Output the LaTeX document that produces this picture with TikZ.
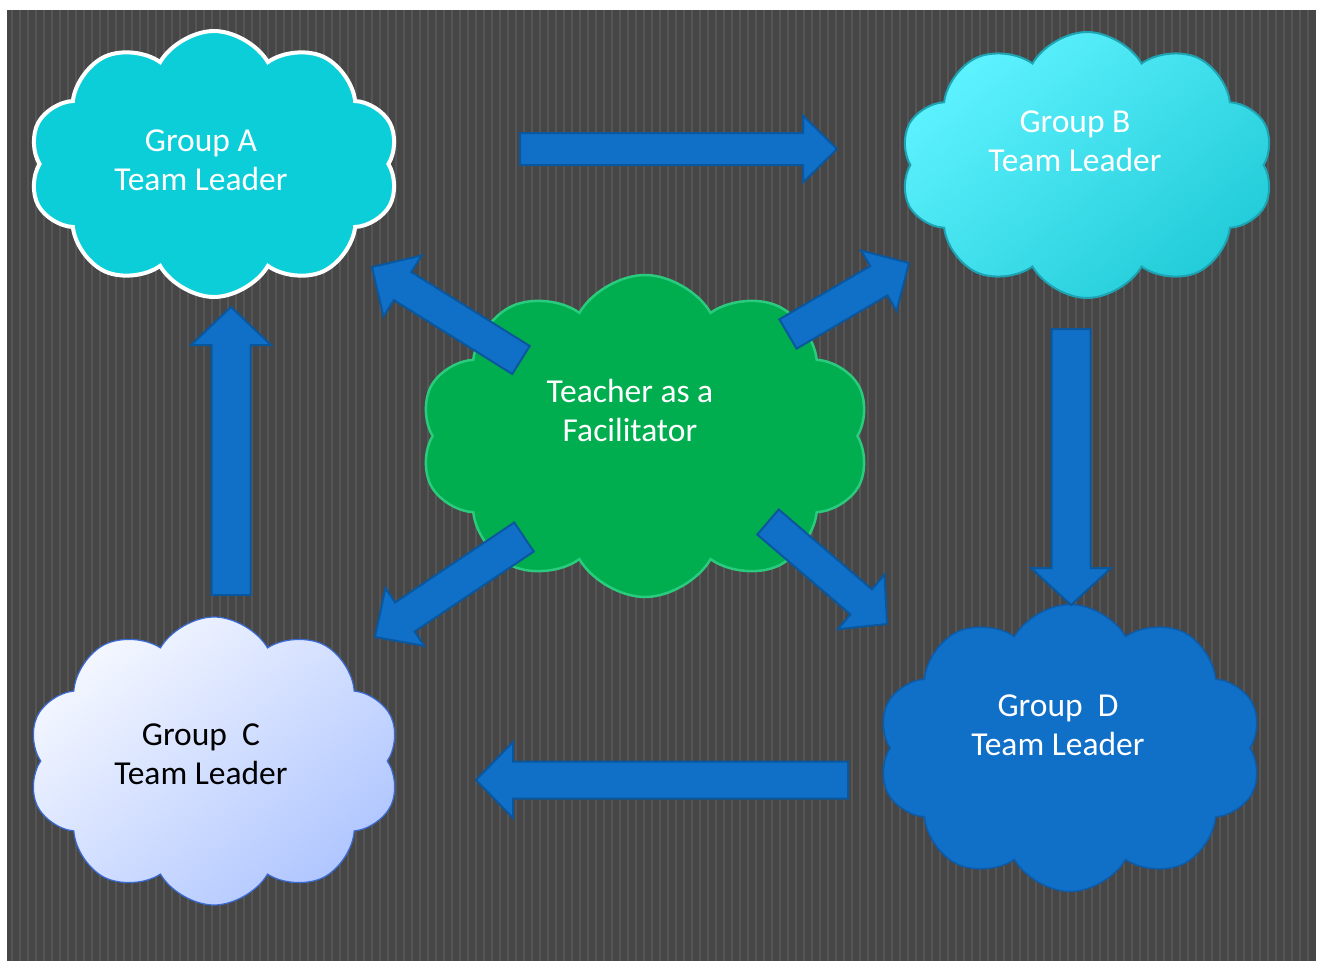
\documentclass[tikz,border=0pt]{standalone}
\usepackage{fontspec}
\setmainfont{Carlito}
\usetikzlibrary{shapes.symbols,calc}
\definecolor{bg}{HTML}{464646}
\definecolor{stripecol}{HTML}{555555}
\definecolor{cyanA}{HTML}{0CCED8}
\definecolor{cyanBl}{HTML}{5EF2FF}
\definecolor{cyanBd}{HTML}{22CCD8}
\definecolor{cyanBb}{HTML}{1FA3B3}
\definecolor{greenT}{HTML}{00AE4F}
\definecolor{greenTb}{HTML}{2ACB7C}
\definecolor{paleC}{HTML}{F4F7FF}
\definecolor{blueC}{HTML}{B0C6FF}
\definecolor{blueCb}{HTML}{3A6AD4}
\definecolor{blueD}{HTML}{1070C8}
\definecolor{blueDb}{HTML}{0C5CAA}
\definecolor{arrowfill}{HTML}{106FC6}
\definecolor{arrowline}{HTML}{0B579E}
\tikzset{
  stripe/.style={stripecol, line width=1.3pt},
  cloudbox/.style={cloud, cloud puffs=10, cloud puff arc=120, cloud ignores aspect, inner sep=0pt},
  label/.style={align=center, font=\fontsize{33.5}{39}\selectfont, text=white},
  barrow/.style={fill=arrowfill, draw=arrowline, line width=2pt, line join=miter}
}
\newcommand\blockarrow[5]{%
  \coordinate (ba-base) at ($(#2)!#5!(#1)$);
  \draw[barrow] ($(#1)!#3!90:(#2)$) -- ($(ba-base)!#3!90:(#2)$) -- ($(ba-base)!#4!90:(#2)$) -- (#2)
     -- ($(ba-base)!#4!-90:(#2)$) -- ($(ba-base)!#3!-90:(#2)$) -- ($(#1)!#3!-90:(#2)$) -- cycle;
}
\begin{document}
\begin{tikzpicture}[x=1pt,y=-1pt]
\useasboundingbox (0,0) rectangle (1324,961);
\fill[white] (0,0) rectangle (1324,961);
\fill[bg] (7,10) rectangle (1316,961);
\foreach \x in {12,20,...,1312} \draw[stripe] (\x,10) -- (\x,961);

% clouds
\node[cloudbox, fill=cyanA, draw=white, line width=4pt, minimum width=370pt, minimum height=266pt] (cA) at (214,164) {};
\node[cloudbox, top color=cyanBl, bottom color=cyanBd, shading angle=40, draw=cyanBb, line width=2pt, minimum width=374pt, minimum height=266pt] (cB) at (1087,165) {};
\node[cloudbox, fill=greenT, draw=greenTb, line width=2.5pt, minimum width=450pt, minimum height=322pt] (cT) at (645,436) {};
\node[cloudbox, top color=paleC, bottom color=blueC, shading angle=40, draw=blueCb, line width=1.2pt, minimum width=372pt, minimum height=288pt] (cC) at (214,761) {};
\node[cloudbox, fill=blueD, draw=blueDb, line width=1.5pt, minimum width=384pt, minimum height=287pt] (cD) at (1070,748) {};

% texts
\node[label] (tA) at (201,160) {Group A\\Team Leader};
\node[label] (tB) at (1075,141) {Group B\\Team Leader};
\node[label] (tT) at (630,410) {Teacher as a\\Facilitator};
\node[label, text=black] (tC) at (201,754) {Group\ \ C\\Team Leader};
\node[label] (tD) at (1058,725) {Group\ \ D\\Team Leader};

% arrow end points
\coordinate (abT) at (520,149);  \coordinate (abH) at (837,149);
\coordinate (caT) at (231,595);  \coordinate (caH) at (231,307);
\coordinate (bdT) at (1071,329); \coordinate (bdH) at (1071,605);
\coordinate (dcT) at (848,780);  \coordinate (dcH) at (476,780);
\coordinate (taT) at (521,360);  \coordinate (taH) at (372,267);
\coordinate (tbT) at (788,334);  \coordinate (tbH) at (909,263);
\coordinate (tcT) at (524,537);  \coordinate (tcH) at (375,637);
\coordinate (tdT) at (768,522);  \coordinate (tdH) at (887,624);

\blockarrow{abT}{abH}{16pt}{33.5pt}{34pt}
\blockarrow{caT}{caH}{19.5pt}{40pt}{38pt}
\blockarrow{bdT}{bdH}{19.5pt}{40pt}{37pt}
\blockarrow{dcT}{dcH}{18.5pt}{38pt}{37pt}
\blockarrow{taT}{taH}{16.5pt}{36pt}{36pt}
\blockarrow{tbT}{tbH}{17pt}{35pt}{35pt}
\blockarrow{tcT}{tcH}{17.5pt}{35pt}{36pt}
\blockarrow{tdT}{tdH}{16.5pt}{36pt}{34pt}
\end{tikzpicture}
\end{document}
